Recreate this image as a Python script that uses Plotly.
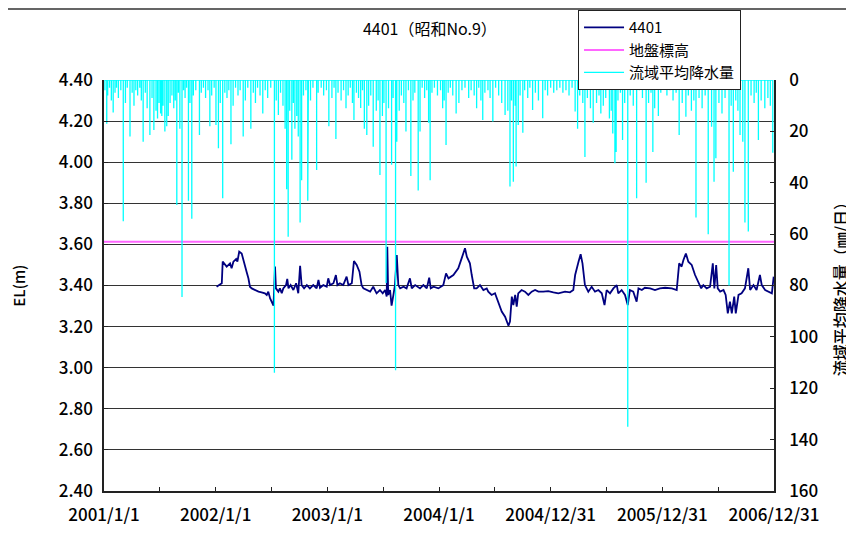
import pandas as pd
import plotly.graph_objects as go

# 日数は 2001/1/1 からの経過日
base = pd.Timestamp('2001-01-01')

# 地下水位 4401 (EL m)
level_day = [368, 379, 385, 388, 396, 401, 412, 417, 423, 432, 436, 442, 450, 455, 461, 466, 472, 477, 483, 494,
             505, 515, 526, 532, 537, 543, 548, 554, 559, 562, 570, 575, 581, 586, 595, 599, 603, 610, 619, 628,
             635, 641, 646, 654, 663, 673, 684, 695, 701, 706, 717, 728, 733, 739, 750, 758, 763, 771, 782, 793,
             799, 810, 817, 826, 835, 842, 848, 859, 870, 880, 891, 902, 911, 919, 924, 926, 929, 935, 940, 946,
             951, 957, 962, 968, 979, 989, 1000, 1006, 1017, 1033, 1044, 1055, 1063, 1068, 1077, 1093, 1109, 1118, 1126, 1142,
             1158, 1169, 1180, 1186, 1196, 1202, 1210, 1218, 1229, 1240, 1251, 1256, 1267, 1278, 1289, 1300, 1311, 1322, 1327, 1333,
             1338, 1344, 1349, 1354, 1365, 1376, 1387, 1398, 1409, 1420, 1436, 1452, 1469, 1485, 1507, 1523, 1534, 1540, 1551, 1558,
             1564, 1569, 1572, 1583, 1594, 1605, 1616, 1627, 1636, 1643, 1654, 1665, 1676, 1681, 1692, 1703, 1712, 1719, 1730, 1741,
             1747, 1758, 1768, 1785, 1801, 1817, 1834, 1856, 1872, 1880, 1888, 1894, 1902, 1910, 1921, 1932, 1943, 1952, 1959, 1970,
             1981, 1990, 1995, 2001, 2006, 2014, 2025, 2032, 2039, 2046, 2052, 2060, 2065, 2074, 2084, 2095, 2106, 2112, 2123, 2133,
             2144, 2150, 2161, 2172, 2183, 2189]
level_m = [3.394, 3.406, 3.411, 3.516, 3.500, 3.492, 3.508, 3.484, 3.516, 3.529, 3.516, 3.565, 3.556, 3.524, 3.484, 3.467, 3.435, 3.394, 3.386, 3.378,
           3.370, 3.367, 3.362, 3.354, 3.370, 3.337, 3.321, 3.302, 3.492, 3.386, 3.370, 3.386, 3.362, 3.386, 3.402, 3.432, 3.386, 3.402, 3.378, 3.411,
           3.362, 3.496, 3.402, 3.386, 3.402, 3.386, 3.402, 3.386, 3.427, 3.389, 3.402, 3.394, 3.435, 3.402, 3.411, 3.451, 3.402, 3.411, 3.402, 3.443,
           3.402, 3.411, 3.519, 3.500, 3.467, 3.402, 3.386, 3.378, 3.370, 3.394, 3.362, 3.378, 3.362, 3.378, 3.346, 3.589, 3.354, 3.378, 3.302, 3.354,
           3.402, 3.548, 3.402, 3.386, 3.394, 3.386, 3.435, 3.386, 3.402, 3.386, 3.402, 3.386, 3.438, 3.386, 3.394, 3.386, 3.402, 3.459, 3.435, 3.451,
           3.484, 3.532, 3.581, 3.540, 3.508, 3.451, 3.386, 3.386, 3.402, 3.378, 3.386, 3.370, 3.354, 3.362, 3.321, 3.273, 3.248, 3.204, 3.224, 3.346,
           3.305, 3.354, 3.297, 3.362, 3.378, 3.370, 3.354, 3.370, 3.378, 3.370, 3.370, 3.373, 3.367, 3.362, 3.370, 3.367, 3.378, 3.451, 3.516, 3.552,
           3.508, 3.443, 3.402, 3.370, 3.394, 3.370, 3.378, 3.362, 3.305, 3.378, 3.362, 3.386, 3.402, 3.362, 3.378, 3.354, 3.305, 3.378, 3.370, 3.321,
           3.386, 3.378, 3.389, 3.386, 3.378, 3.386, 3.389, 3.386, 3.378, 3.508, 3.492, 3.524, 3.556, 3.516, 3.500, 3.451, 3.419, 3.386, 3.402, 3.386,
           3.394, 3.508, 3.386, 3.500, 3.386, 3.370, 3.378, 3.354, 3.264, 3.321, 3.264, 3.346, 3.264, 3.354, 3.362, 3.386, 3.484, 3.378, 3.402, 3.378,
           3.451, 3.402, 3.378, 3.370, 3.362, 3.443]

# 地盤標高
ground_day = [0, 2190]
ground_m = [3.613, 3.613]

# 流域平均降水量 (mm/日) 目立つ降雨
rain_day = [9, 30, 63, 85, 128, 150, 163, 189, 199, 205, 216, 238, 248, 255, 276, 287, 312, 346, 366, 374,
            388, 415, 455, 480, 519, 557, 570, 592, 597, 602, 614, 624, 635, 641, 646, 666, 668, 695, 735, 758,
            791, 817, 839, 851, 859, 880, 902, 922, 940, 953, 957, 987, 1003, 1027, 1033, 1061, 1066, 1107, 1118, 1151,
            1218, 1238, 1271, 1311, 1327, 1338, 1347, 1354, 1369, 1401, 1434, 1540, 1548, 1572, 1599, 1624, 1652, 1663, 1670, 1674,
            1695, 1712, 1741, 1772, 1794, 1812, 1880, 1902, 1935, 1975, 1986, 1994, 2000, 2043, 2057, 2079, 2088, 2095, 2106, 2139,
            2186]
rain_mm = [17, 12.7, 55, 22, 24, 21.4, 19.5, 14, 20, 18, 9, 48.7, 19, 84.5, 47, 54, 21.4, 18, 17.5, 26.6,
           46, 25, 22, 19, 13, 114, 13.6, 19, 42.5, 61, 31, 19, 22, 55.5, 39, 47, 8.4, 35, 18, 23,
           11, 15.6, 10.9, 19, 21.4, 26, 37, 79, 33, 113, 24, 20, 37.4, 43, 20, 16.6, 39, 11, 25.3, 13,
           11, 15.6, 16.2, 13.6, 41.5, 39.6, 33.7, 17.5, 20.5, 11.7, 14.9, 12.3, 19, 30, 16.6, 13, 15, 20.8, 32.4, 28,
           23.4, 135, 46, 40, 28, 14, 21.4, 14.3, 53.5, 60, 18.2, 39.6, 30.5, 80, 35.7, 21.4, 24, 55.5, 59, 23.4,
           28.3]

# 小さな降雨
drizzle_day = [3, 12, 18, 24, 36, 41, 47, 55, 70, 76, 92, 98, 104, 110, 117, 122, 135, 141, 157, 170,
               175, 180, 185, 193, 210, 222, 228, 233, 243, 260, 265, 270, 281, 292, 300, 318, 325, 332, 340, 352,
               360, 380, 395, 402, 408, 422, 430, 438, 445, 462, 470, 488, 495, 502, 510, 527, 535, 545, 563, 577,
               585, 607, 619, 630, 652, 660, 675, 683, 700, 710, 718, 727, 745, 752, 765, 775, 783, 798, 805, 812,
               825, 832, 845, 865, 872, 890, 896, 910, 915, 930, 945, 965, 972, 980, 995, 1010, 1016, 1040, 1048, 1055,
               1072, 1080, 1090, 1100, 1112, 1125, 1132, 1140, 1160, 1170, 1180, 1192, 1200, 1210, 1225, 1232, 1245, 1255, 1262, 1280,
               1290, 1300, 1320, 1332, 1344, 1360, 1375, 1385, 1392, 1410, 1420, 1442, 1450, 1460, 1470, 1480, 1490, 1500, 1510, 1520,
               1530, 1555, 1565, 1580, 1590, 1610, 1618, 1632, 1640, 1658, 1680, 1688, 1702, 1720, 1730, 1750, 1760, 1780, 1788, 1800,
               1820, 1830, 1840, 1850, 1860, 1870, 1890, 1910, 1920, 1928, 1945, 1955, 1965, 2010, 2020, 2030, 2050, 2065, 2072, 2115,
               2125, 2132, 2148, 2160, 2170, 2178]
drizzle_mm = [4, 6, 3, 8, 5, 3, 7, 4, 9, 3, 5, 10, 4, 6, 3, 8, 5, 11, 7, 12,
              15, 9, 13, 10, 14, 6, 11, 8, 5, 4, 7, 3, 9, 6, 4, 5, 3, 7, 4, 6,
              3, 9, 5, 7, 4, 10, 3, 6, 4, 8, 3, 5, 9, 3, 6, 4, 7, 3, 8, 5,
              10, 12, 9, 14, 6, 4, 8, 3, 5, 3, 6, 4, 7, 3, 5, 8, 4, 6, 3, 9,
              5, 7, 4, 10, 6, 12, 8, 14, 9, 11, 7, 12, 6, 9, 4, 8, 5, 3, 7, 4,
              5, 3, 6, 4, 8, 5, 3, 6, 9, 4, 3, 7, 4, 6, 3, 8, 5, 4, 7, 3,
              6, 9, 12, 8, 10, 6, 4, 7, 3, 5, 8, 4, 6, 3, 5, 4, 3, 5, 4, 6,
              3, 6, 9, 7, 11, 9, 6, 10, 7, 12, 8, 5, 9, 6, 10, 4, 7, 9, 5, 11,
              5, 3, 6, 4, 8, 5, 9, 6, 12, 8, 7, 11, 6, 9, 13, 7, 10, 8, 12, 6,
              9, 5, 8, 11, 7, 10]

# x軸目盛
tick_day = [0, 365, 730, 1095, 1460, 1825, 2190]
tick_text = ['2001/1/1', '2002/1/1', '2003/1/1', '2004/1/1', '2004/12/31', '2005/12/31', '2006/12/31']


def to_date(days):
    return base + pd.to_timedelta(pd.Series(days, dtype=float), unit='D')


# 降水量は日ごとの棒をスパイク線で描く
rain = sorted(zip(rain_day + drizzle_day, rain_mm + drizzle_mm))
rx, ry = [], []
for d, v in rain:
    rx += [d, d, d]
    ry += [0, v, 0]

font_jp = 'Noto Sans CJK JP'

fig = go.Figure()

fig.add_trace(go.Scatter(
    x=to_date(level_day), y=level_m, name='4401', mode='lines',
    line=dict(color='#000080', width=1.8)
))
fig.add_trace(go.Scatter(
    x=to_date(ground_day), y=ground_m, name='地盤標高', mode='lines',
    line=dict(color='#FF66FF', width=2)
))
fig.add_trace(go.Scatter(
    x=to_date(rx), y=ry, name='流域平均降水量', mode='lines', yaxis='y2',
    line=dict(color='#00FFFF', width=1.3)
))

# 半年ごとの目盛、ラベルは1年ごと
all_ticks = []
all_text = []
for i, d in enumerate(tick_day):
    all_ticks.append(d)
    all_text.append(tick_text[i])
    if i < len(tick_day) - 1:
        all_ticks.append((d + tick_day[i + 1]) / 2)
        all_text.append('')

# ページ本体の余白 8px を差し引いた配置
fig.update_layout(
    width=854, height=534,
    margin=dict(l=96, r=88, t=72, b=51, autoexpand=False),
    paper_bgcolor='white', plot_bgcolor='white',
    font=dict(family=font_jp, size=17, color='#000000'),
    title=dict(text='4401（昭和No.9）', x=0.494, xanchor='center', y=0.959, yanchor='middle',
               font=dict(size=16, family=font_jp)),
    showlegend=True,
    legend=dict(
        x=0.7075, y=1.170, xanchor='left', yanchor='top',
        bgcolor='white', bordercolor='#222222', borderwidth=1,
        font=dict(size=15, family=font_jp), tracegroupgap=0,
        itemwidth=40
    ),
    xaxis=dict(
        type='date',
        range=[base, base + pd.Timedelta(days=2190)],
        tickvals=to_date(all_ticks), ticktext=all_text,
        ticks='inside', ticklen=4, tickcolor='#222222',
        showgrid=False, showline=True, linecolor='#222222', linewidth=1.5,
        tickfont=dict(size=17, weight=500), ticklabelstandoff=8
    ),
    yaxis=dict(
        range=[2.4, 4.4], dtick=0.2, tick0=2.4, tickformat='.2f',
        showgrid=True, gridcolor='#333333', gridwidth=1.2,
        showline=True, linecolor='#222222', linewidth=1.5,
        ticks='inside', ticklen=4, tickcolor='#222222',
        tickfont=dict(size=17, weight=500), zeroline=False, ticklabelstandoff=6
    ),
    yaxis2=dict(
        overlaying='y', side='right',
        range=[160, 0], dtick=20, tick0=0,
        showgrid=False, showline=True, linecolor='#222222', linewidth=1.5,
        ticks='inside', ticklen=4, tickcolor='#222222',
        tickfont=dict(size=17, weight=500), zeroline=False, ticklabelstandoff=10
    ),
)

# 軸タイトル
fig.add_annotation(text='EL(m)', x=-0.128, y=0.5, xref='paper', yref='paper',
                   xanchor='center', yanchor='middle',
                   textangle=-90, showarrow=False, font=dict(size=15, weight=500))
fig.add_annotation(text='流域平均降水量（㎜/日）', x=1.098, y=0.5, xref='paper', yref='paper',
                   xanchor='center', yanchor='middle',
                   textangle=-90, showarrow=False, font=dict(size=16, weight=500))

# グラフエリアの枠
fig.add_shape(type='rect', xref='paper', yref='paper',
              x0=-0.1493, x1=1.13, y0=-0.13, y1=1.1727,
              line=dict(color='#333333', width=1.5), layer='below')

fig.write_html('out.html')
